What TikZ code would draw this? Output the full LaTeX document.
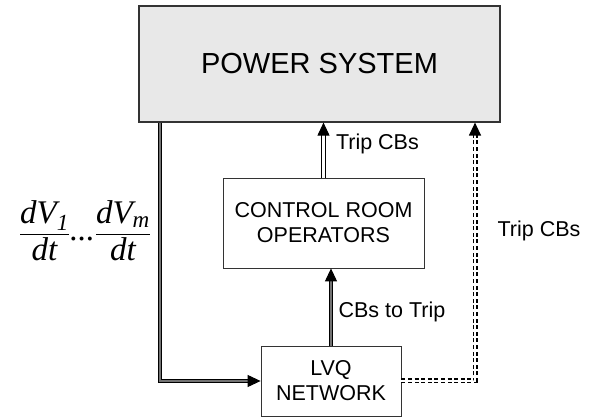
\documentclass[tikz,border=0pt]{standalone}
\usepackage{amsmath}
\usepackage{fontspec}
\setmainfont{Liberation Sans}
\newfontfamily\tms{Liberation Serif}
\usetikzlibrary{arrows.meta, positioning}

\newcommand{\ti}[1]{\text{\tms\itshape #1}}

\begin{document}
\begin{tikzpicture}[
    x=1pt, y=-1pt,
    box/.style=
        {draw=black!80, line width=0.8pt, align=center, inner sep=0pt,
         font=\fontsize{21.5}{25}\selectfont},
    lbl/.style={font=\fontsize{21.5}{25}\selectfont, inner sep=0pt},
    tip/.style={-{Triangle[length=13pt,width=12pt]}},
    bus/.style={line width=1.1pt, double=black!55, double distance=1.8pt},
    trip/.style={line width=1pt, double=white, double distance=2.6pt},
    autotrip/.style={trip, line width=1.2pt, dash pattern=on 4pt off 2.6pt}]
    \useasboundingbox (0,0) rectangle (597,419);
    % blocks
    \node [box, fill=black!9, line width=1.2pt, minimum width=361pt,
        minimum height=116pt, font=\fontsize{29}{34}\selectfont]
        (power) at (319.5,64) {POWER SYSTEM};
    \node [box, minimum width=201pt, minimum height=90pt]
        (crew) at (323.5,223) {CONTROL ROOM\\OPERATORS};
    \node [box, minimum width=140pt, minimum height=70pt]
        (lvq) at (331,381) {LVQ\\NETWORK};
    \coordinate (tap) at (160,0);
    \coordinate (auto) at (475,0);
    % voltage rates into the network
    \draw [bus, tip] (power.south -| tap) |- (lvq.west)
        node [pos=0.21, left=5pt] {\fontsize{33}{40}\selectfont
            $\dfrac{\ti{dV}_{\ti{1}}}{\ti{dt}}\ti{...}\dfrac{\ti{dV}_{\ti{m}}}{\ti{dt}}$};
    % network advice to the operators
    \draw [bus, tip] (lvq.north) -- (lvq.north |- crew.south)
        node [lbl, pos=0.44, right=7pt] {CBs to Trip};
    \draw [trip, tip] (crew.north) -- (crew.north |- power.south)
        node [lbl, pos=0.62, right=12pt] {Trip CBs};
    % automatic tripping
    \draw [autotrip, tip] (lvq.east) -| (power.south -| auto)
        node [lbl, pos=0.79, right=22pt] {Trip CBs};
\end{tikzpicture}
\end{document}
